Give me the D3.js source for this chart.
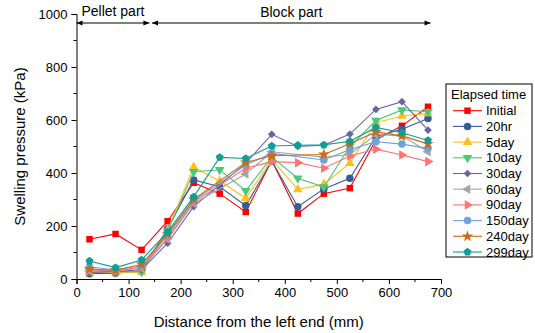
<!DOCTYPE html>
<html>
<head>
<meta charset="utf-8">
<script src="https://d3js.org/d3.v7.min.js"></script>
<style>
  body { margin: 0; background: #fff; }
  text { font-family: Arial, "Liberation Sans", sans-serif; fill: #000; }
  .axis path, .axis line { stroke: #000; stroke-width: 1px; }
</style>
</head>
<body>
<svg id="chart" width="535" height="333"></svg>
<script>
// distance from the left end (mm)
const distance = [25, 75, 125, 175, 225, 275, 325, 375, 425, 475, 525, 575, 625, 675];

const seriesNames = ["Initial", "20hr", "5day", "10day", "30day", "60day", "90day", "150day", "240day", "299day"];

// swelling pressure (kPa), null = no measurement
const initial  = [150, 170, 110, 218, 363, 322, 253, 447, 247, 322, 343, 525, 578, 650];
const hr20     = [20, 22, 30, 190, 374, 348, 277, 445, 273, 340, 380, 537, 565, 606];
const day5     = [25, 25, 25, 185, 422, 370, 305, 450, 338, 358, 437, 590, 615, 625];
const day10    = [30, 28, 28, 180, 405, 412, 333, 460, 380, 347, 500, 598, 638, 631];
const day30    = [25, 28, 35, 135, 273, null, 437, 546, 500, 505, 547, 640, 669, 562];
const day60    = [30, 32, 40, 150, 285, null, 396, 480, null, 460, 470, 545, 540, 480];
const day90    = [35, 30, 45, 155, 290, null, 418, 443, 439, 418, 464, 490, 468, 443];
const day150   = [45, 35, 50, 165, 295, null, 430, 474, null, 449, 489, 518, 509, 493];
const day240   = [38, 33, 55, 170, 300, null, 440, 465, null, 470, 510, 555, 540, 510];
const day299   = [68, 43, 72, 178, 310, 459, 455, 502, 505, 506, 520, 572, 552, 523];

const values = [initial, hr20, day5, day10, day30, day60, day90, day150, day240, day299];
const colors = ["#ff0000", "#355e99", "#ffbf1a", "#47c97a", "#6a64a6", "#a6a6a6", "#ff7373", "#6fa3d8", "#cc6a15", "#119e95"];

// region annotations (mm)
const pelletPart = [0, 140];
const blockPart = [145, 680];

const svg = d3.select("#chart");
const x = d3.scaleLinear().domain([0, 700]).range([76.5, 441]);
const y = d3.scaleLinear().domain([0, 1000]).range([279, 14]);

// axes: major ticks + minor ticks, all outward
const xAxis = svg.append("g").attr("class", "axis").attr("transform", "translate(0," + y(0) + ")");
xAxis.call(d3.axisBottom(x).tickValues(d3.range(0, 701, 100)).tickSize(5).tickPadding(4).tickFormat(d3.format("d")));
xAxis.selectAll(".minor").data(d3.range(50, 700, 100)).enter().append("line")
  .attr("x1", d => x(d)).attr("x2", d => x(d)).attr("y1", 0).attr("y2", 3).attr("stroke", "#000");
xAxis.selectAll("text").style("font-size", "13px");

const yAxis = svg.append("g").attr("class", "axis").attr("transform", "translate(" + x(0) + ",0)");
yAxis.call(d3.axisLeft(y).tickValues(d3.range(0, 1001, 200)).tickSize(5).tickPadding(4).tickFormat(d3.format("d")));
yAxis.selectAll(".minor").data(d3.range(100, 1000, 200)).enter().append("line")
  .attr("x1", 0).attr("x2", -3).attr("y1", d => y(d)).attr("y2", d => y(d)).attr("stroke", "#000");
yAxis.selectAll("text").style("font-size", "13px");

svg.append("text").attr("x", (x(0) + x(700)) / 2).attr("y", 327).attr("text-anchor", "middle")
  .style("font-size", "15px").text("Distance from the left end (mm)");
svg.append("text").attr("transform", "translate(25," + (y(0) + y(1000)) / 2 + ") rotate(-90)")
  .attr("text-anchor", "middle").style("font-size", "15px").text("Swelling pressure (kPa)");

// region arrows
const defs = svg.append("defs");
defs.append("marker").attr("id", "ah").attr("viewBox", "0 0 10 10").attr("refX", 10).attr("refY", 5)
  .attr("markerWidth", 7).attr("markerHeight", 6).attr("orient", "auto-start-reverse").attr("markerUnits", "userSpaceOnUse")
  .append("path").attr("d", "M0,1L10,5L0,9Z").attr("fill", "#000");
const arrowY = 23;
[pelletPart, blockPart].forEach(r => {
  svg.append("line").attr("x1", x(r[0])).attr("x2", x(r[1])).attr("y1", arrowY).attr("y2", arrowY)
    .attr("stroke", "#000").attr("stroke-width", 1.2)
    .attr("marker-start", "url(#ah)").attr("marker-end", "url(#ah)");
});
svg.append("text").attr("x", x((pelletPart[0] + pelletPart[1]) / 2)).attr("y", 16).attr("text-anchor", "middle")
  .style("font-size", "14px").text("Pellet part");
svg.append("text").attr("x", x((blockPart[0] + blockPart[1]) / 2)).attr("y", 17).attr("text-anchor", "middle")
  .style("font-size", "14px").text("Block part");

// marker shapes
function pentagon(r) {
  const pts = d3.range(5).map(i => {
    const a = -Math.PI / 2 + i * 2 * Math.PI / 5;
    return [r * Math.cos(a), r * Math.sin(a)];
  });
  return "M" + pts.join("L") + "Z";
}
const tri = d3.symbol().type(d3.symbolTriangle).size(40)();
const shapes = [
  { p: d3.symbol().type(d3.symbolSquare).size(42)(), rot: 0 },
  { p: d3.symbol().type(d3.symbolCircle).size(44)(), rot: 0 },
  { p: tri, rot: 0 },
  { p: tri, rot: 180 },
  { p: d3.symbol().type(d3.symbolSquare).size(30)(), rot: 45 },
  { p: tri, rot: -90 },
  { p: tri, rot: 90 },
  { p: d3.symbol().type(d3.symbolCircle).size(44)(), rot: 0 },
  { p: d3.symbol().type(d3.symbolStar).size(42)(), rot: 0 },
  { p: pentagon(4.2), rot: 0 }
];

const line = d3.line().x(d => x(d[0])).y(d => y(d[1]));
const plot = svg.append("g");
values.forEach((vals, i) => {
  const pts = distance.map((d, j) => [d, vals[j]]).filter(d => d[1] !== null);
  const g = plot.append("g");
  g.append("path").attr("d", line(pts)).attr("fill", "none").attr("stroke", colors[i]).attr("stroke-width", 1.1);
  g.selectAll("path.m").data(pts).enter().append("path").attr("class", "m")
    .attr("d", shapes[i].p).attr("fill", colors[i])
    .attr("transform", d => "translate(" + x(d[0]) + "," + y(d[1]) + ") rotate(" + shapes[i].rot + ")");
});

// legend
const lg = svg.append("g");
lg.append("rect").attr("x", 446).attr("y", 84).attr("width", 86).attr("height", 173)
  .attr("fill", "#fff").attr("stroke", "#000").attr("stroke-width", 1);
lg.append("text").attr("x", 451).attr("y", 99).style("font-size", "13px").text("Elapsed time");
seriesNames.forEach((name, i) => {
  const ly = 110.7 + i * 15.7;
  lg.append("line").attr("x1", 453).attr("x2", 482).attr("y1", ly).attr("y2", ly)
    .attr("stroke", colors[i]).attr("stroke-width", 1.1);
  lg.append("path").attr("d", shapes[i].p).attr("fill", colors[i])
    .attr("transform", "translate(467.5," + ly + ") rotate(" + shapes[i].rot + ")");
  lg.append("text").attr("x", 486).attr("y", ly + 4.5).style("font-size", "13px").text(name);
});
</script>
</body>
</html>
